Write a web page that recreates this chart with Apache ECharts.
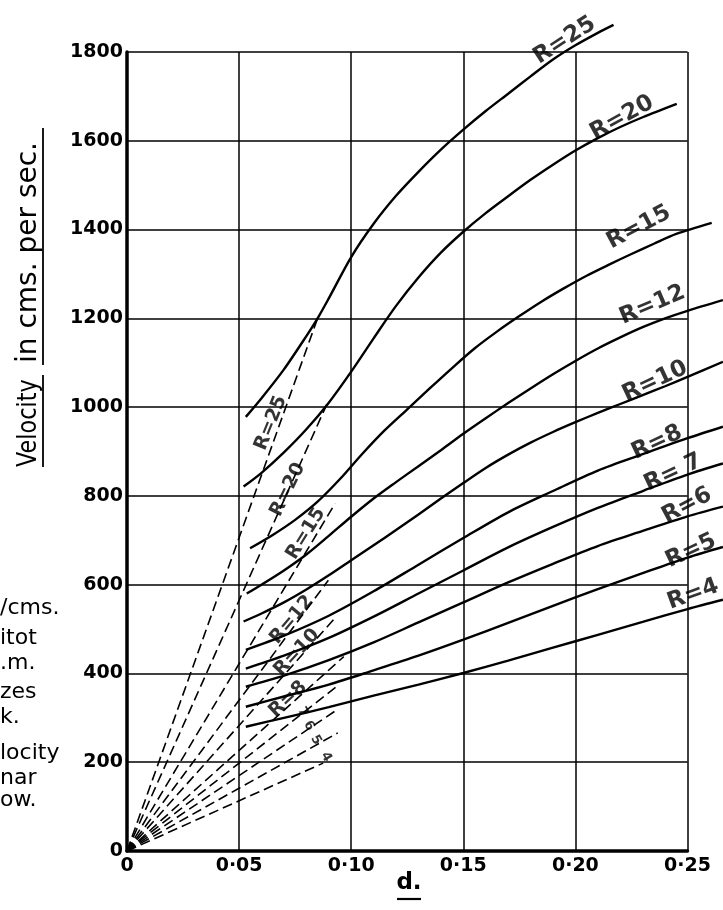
<!DOCTYPE html>
<html>
<head>
<meta charset="utf-8">
<script src="https://cdn.jsdelivr.net/npm/echarts@6/dist/echarts.min.js"></script>
<style>html,body{margin:0;padding:0;background:#fff;}#c{width:723px;height:910px;}</style>
</head>
<body>
<div id="c"></div>
<script>
// ---- data ----
const xTickLabels = ['0', '0·05', '0·10', '0·15', '0·20', '0·25'];
const yTickLabels = ['0', '200', '400', '600', '800', '1000', '1200', '1400', '1600', '1800'];
const curveNames = ['R=25', 'R=20', 'R=15', 'R=12', 'R=10', 'R=8', 'R= 7', 'R=6', 'R=5', 'R=4'];

const r25 = [[0.053, 978], [0.06, 1020], [0.07, 1085], [0.08, 1160], [0.085, 1200], [0.09, 1245], [0.10, 1338], [0.11, 1413], [0.12, 1476], [0.13, 1530], [0.14, 1580], [0.15, 1625], [0.16, 1667], [0.17, 1706], [0.18, 1745], [0.19, 1783], [0.20, 1815], [0.21, 1843], [0.217, 1861]];
const r20 = [[0.052, 821], [0.06, 852], [0.07, 898], [0.08, 950], [0.09, 1010], [0.10, 1080], [0.11, 1155], [0.12, 1228], [0.13, 1292], [0.14, 1348], [0.15, 1395], [0.16, 1437], [0.17, 1475], [0.18, 1512], [0.19, 1546], [0.20, 1578], [0.21, 1606], [0.22, 1631], [0.23, 1653], [0.2452, 1683]];
const r15 = [[0.0549, 682], [0.065, 712], [0.075, 746], [0.085, 787], [0.095, 838], [0.105, 895], [0.115, 948], [0.125, 995], [0.135, 1042], [0.145, 1088], [0.155, 1132], [0.165, 1170], [0.175, 1205], [0.185, 1238], [0.195, 1268], [0.205, 1296], [0.215, 1321], [0.225, 1345], [0.235, 1368], [0.245, 1390], [0.2608, 1415]];
const r12 = [[0.0534, 580], [0.06, 600], [0.07, 632], [0.08, 668], [0.09, 710], [0.10, 753], [0.11, 794], [0.12, 831], [0.13, 867], [0.14, 903], [0.15, 940], [0.16, 975], [0.17, 1009], [0.18, 1042], [0.19, 1074], [0.20, 1104], [0.21, 1132], [0.22, 1157], [0.23, 1180], [0.24, 1200], [0.25, 1217], [0.2658, 1241]];
const r10 = [[0.052, 517], [0.06, 535], [0.07, 560], [0.08, 589], [0.09, 621], [0.10, 655], [0.11, 689], [0.12, 723], [0.13, 758], [0.14, 794], [0.15, 829], [0.16, 863], [0.17, 893], [0.18, 920], [0.19, 944], [0.20, 966], [0.21, 987], [0.22, 1007], [0.23, 1027], [0.24, 1047], [0.25, 1068], [0.2658, 1102]];
const r8 = [[0.053, 453], [0.07, 485], [0.09, 530], [0.11, 585], [0.13, 645], [0.15, 705], [0.17, 763], [0.19, 811], [0.21, 857], [0.23, 894], [0.25, 930], [0.2658, 956]];
const r7 = [[0.053, 411], [0.07, 440], [0.09, 480], [0.11, 528], [0.13, 580], [0.15, 632], [0.17, 684], [0.19, 730], [0.21, 773], [0.23, 811], [0.25, 848], [0.2658, 873]];
const r6 = [[0.053, 370], [0.07, 395], [0.09, 430], [0.11, 470], [0.13, 515], [0.15, 560], [0.17, 605], [0.19, 647], [0.21, 687], [0.23, 721], [0.25, 754], [0.2658, 776]];
const r5 = [[0.053, 325], [0.07, 348], [0.09, 375], [0.11, 407], [0.13, 440], [0.15, 476], [0.17, 514], [0.19, 552], [0.21, 590], [0.23, 626], [0.25, 661], [0.2658, 685]];
const r4 = [[0.053, 280], [0.07, 300], [0.09, 324], [0.11, 350], [0.13, 375], [0.15, 401], [0.17, 429], [0.19, 458], [0.21, 487], [0.23, 516], [0.25, 545], [0.2658, 566]];
const curves = [r25, r20, r15, r12, r10, r8, r7, r6, r5, r4];

// dashed lines from the origin: end points
const dashEndD = [0.085, 0.089, 0.0928, 0.0898, 0.0928, 0.0967, 0.0934, 0.0936, 0.094, 0.0875];
const dashEndV = [1200, 1005, 783, 610, 525, 438, 370, 318, 266, 198];

// labels near curve ends (centre in data coords) and along dashed lines
const endLabelPos = [[0.1952, 1826], [0.2208, 1652], [0.2283, 1405], [0.2343, 1230], [0.2355, 1058], [0.2364, 920], [0.2436, 852], [0.2498, 778], [0.2516, 676], [0.2525, 578]];
const endLabelRot = [33, 29, 28, 23, 25, 25, 25, 28, 25, 20];
const dashLabels = ['R=25', 'R=20', 'R=15', 'R=12', 'R=10', 'R=8'];
const dashLabelPos = [[0.0642, 964], [0.0717, 814], [0.0798, 715], [0.0736, 521], [0.0758, 447], [0.0718, 342]];
const dashLabelRot = [68, 64, 58, 50, 47, 43];
const smallLabels = ['7', '6', '5', '4'];
const smallLabelPos = [[0.0785, 313], [0.0812, 282], [0.0843, 250], [0.0888, 212]];

const leftFragments = ['/cms.', 'itot', '.m.', 'zes', 'k.', 'locity', 'nar', 'ow.'];
const leftFragY = [608, 638, 663, 692, 717, 753, 778, 800];

// ---- chart ----
const chart = echarts.init(document.getElementById('c'), null, {renderer: 'canvas'});
const FONT = 'DejaVu Sans';
const INK = '#000';
const GL = 127, GR = 35.5, GT = 52, GB = 59, W = 723, H = 910;
const XMAX = 0.25, YMAX = 1800;
// second (invisible) grid with the same scale, reaching the page edges so curves may run past the frame
const X2MAX = XMAX * (W - GL) / (W - GL - GR);
const Y2MAX = YMAX * (H - GB) / (H - GB - GT);

const series = [];
curves.forEach((pts, i) => {
  series.push({
    type: 'line', name: curveNames[i], data: pts, smooth: 0.3, clip: false,
    xAxisIndex: 1, yAxisIndex: 1,
    symbol: 'none', lineStyle: {color: INK, width: 2.4}, silent: true, z: 5
  });
});
dashEndD.forEach((d, i) => {
  series.push({
    type: 'line', name: curveNames[i] + ' dashed', data: [[0, 0], [d, dashEndV[i]]], clip: false,
    symbol: 'none', lineStyle: {color: INK, width: 1.6, type: [10, 5]}, silent: true, z: 4
  });
});

series.push({
  type: 'scatter', symbolSize: 0, clip: false, silent: true, z: 6, xAxisIndex: 1, yAxisIndex: 1,
  data: endLabelPos.map((p, i) => ({value: p, label: {show: true, formatter: curveNames[i], rotate: endLabelRot[i]}})),
  label: {position: 'inside', color: INK, fontFamily: FONT, fontSize: 23, fontWeight: 'bold'}
});
series.push({
  type: 'scatter', symbolSize: 0, clip: false, silent: true, z: 6,
  data: dashLabelPos.map((p, i) => ({value: p, label: {show: true, formatter: dashLabels[i], rotate: dashLabelRot[i]}})),
  label: {position: 'inside', color: INK, fontFamily: FONT, fontSize: 19, fontWeight: 'bold'}
});
series.push({
  type: 'scatter', symbolSize: 0, clip: false, silent: true, z: 6,
  data: smallLabelPos.map((p, i) => ({value: p, label: {show: true, formatter: smallLabels[i], rotate: -60}})),
  label: {position: 'inside', color: INK, fontFamily: FONT, fontSize: 13, fontWeight: 'bold'}
});

const graphic = [];
// y axis title with underlines
graphic.push({
  type: 'group', x: 29, y: 467, rotation: Math.PI / 2,
  children: [
    {type: 'text', x: 0, y: 0, scaleX: 0.86, style: {text: 'Velocity', font: '26px "' + FONT + '"', fill: INK, align: 'left', verticalAlign: 'middle'}},
    {type: 'text', x: 104, y: 0, style: {text: 'in cms. per sec.', font: '28px "' + FONT + '"', fill: INK, align: 'left', verticalAlign: 'middle'}},
    {type: 'line', shape: {x1: 0, y1: 14, x2: 92, y2: 14}, style: {stroke: INK, lineWidth: 1.8}},
    {type: 'line', shape: {x1: 102, y1: 14, x2: 339, y2: 14}, style: {stroke: INK, lineWidth: 1.8}}
  ]
});
// x axis title
graphic.push({type: 'text', x: 409, y: 883, style: {text: 'd.', font: 'bold 23px "' + FONT + '"', fill: INK, align: 'center', verticalAlign: 'middle'}});
graphic.push({type: 'line', shape: {x1: 397, y1: 899, x2: 421, y2: 899}, style: {stroke: INK, lineWidth: 2.2}});
leftFragments.forEach((t, i) => {
  graphic.push({type: 'text', x: 0, y: leftFragY[i], style: {text: t, font: '22px "' + FONT + '"', fill: INK, align: 'left', verticalAlign: 'middle'}});
});

const hiddenAxis = {show: false, axisLine: {show: false}, axisTick: {show: false}, axisLabel: {show: false}, splitLine: {show: false}};

chart.setOption({
  animation: false,
  backgroundColor: '#fff',
  grid: [
    {left: GL, right: GR, top: GT, bottom: GB, containLabel: false},
    {left: GL, right: 0, top: 0, bottom: GB, containLabel: false}
  ],
  xAxis: [{
    type: 'value', min: 0, max: XMAX, interval: 0.05, gridIndex: 0,
    axisLine: {show: true, onZero: false, lineStyle: {color: INK, width: 3.5}},
    axisTick: {show: false},
    splitLine: {show: true, lineStyle: {color: INK, width: 1.5}},
    axisLabel: {color: INK, fontFamily: FONT, fontSize: 19, fontWeight: 'bold', margin: 6,
      formatter: (v) => xTickLabels[Math.round(v / 0.05)]}
  }, Object.assign({type: 'value', min: 0, max: X2MAX, gridIndex: 1}, hiddenAxis)],
  yAxis: [{
    type: 'value', min: 0, max: YMAX, interval: 200, gridIndex: 0,
    axisLine: {show: true, onZero: false, lineStyle: {color: INK, width: 3.5}},
    axisTick: {show: false},
    splitLine: {show: true, lineStyle: {color: INK, width: 1.5}},
    axisLabel: {color: INK, fontFamily: FONT, fontSize: 19, fontWeight: 'bold', margin: 4,
      formatter: (v) => yTickLabels[Math.round(v / 200)]}
  }, Object.assign({type: 'value', min: 0, max: Y2MAX, gridIndex: 1}, hiddenAxis)],
  graphic: graphic,
  series: series
});
</script>
</body>
</html>
